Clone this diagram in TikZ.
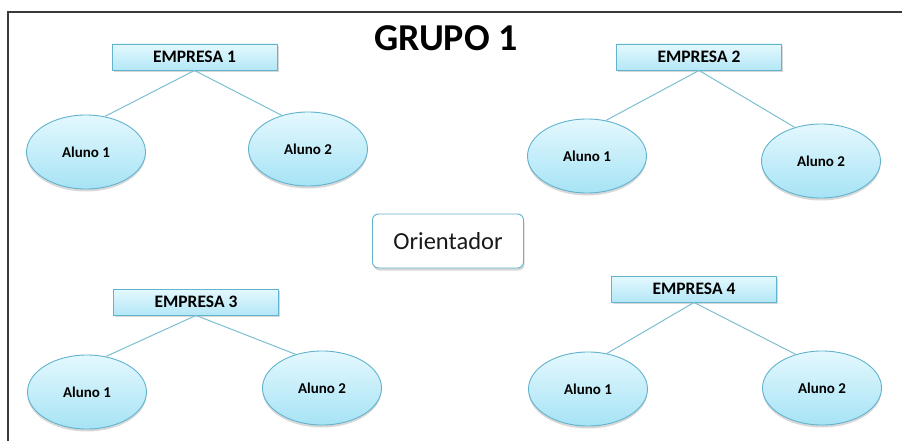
\documentclass[tikz,border=0pt]{standalone}
\usepackage{fontspec}
\setmainfont{Carlito}
\usetikzlibrary{shadows,shapes.geometric}
\definecolor{rimblue}{HTML}{62B3CD}
\definecolor{topcyan}{HTML}{E4F8FE}
\definecolor{botcyan}{HTML}{A6E3F5}
\definecolor{linkblue}{HTML}{7DBFD2}
\definecolor{framegray}{HTML}{3A3A3A}
\tikzset{
  company/.style={draw=rimblue, line width=0.9pt, top color=topcyan, bottom color=botcyan!85,
    minimum width=165pt, minimum height=26pt, inner sep=0pt,
    font=\bfseries\fontsize{17.5}{17.5}\selectfont,
    drop shadow={shadow xshift=1.5pt, shadow yshift=-2pt, opacity=0.25, fill=black!60}},
  student/.style={ellipse, draw=rimblue, line width=0.9pt, top color=topcyan, bottom color=botcyan,
    minimum width=119pt, minimum height=74pt, inner sep=0pt,
    font=\bfseries\fontsize{15}{15}\selectfont,
    drop shadow={shadow xshift=0pt, shadow yshift=-2.5pt, opacity=0.25, fill=black!60}},
  advisor/.style={draw=rimblue, line width=0.9pt, rounded corners=6pt, fill=white,
    minimum width=151pt, minimum height=54pt, inner sep=0pt,
    font=\fontsize{24.5}{24.5}\selectfont, text=black!90,
    drop shadow={shadow xshift=1pt, shadow yshift=-2.5pt, opacity=0.25, fill=black!60}},
  link/.style={draw=linkblue, line width=1pt},
}
\begin{document}
\begin{tikzpicture}[x=1pt, y=-1pt]
  \useasboundingbox (0,0) rectangle (902,441);
  \fill[white] (0,0) rectangle (902,441);
  % frame
  \draw[framegray, line width=1.6pt] (8,441) -- (8,12) -- (902,12);

  % title
  \node[font=\bfseries\fontsize{38}{38}\selectfont] (title) at (446,38) {GRUPO 1};

  % advisor
  \node[advisor] (ori) at (448,241) {Orientador};

  % group 1
  \node[company] (e1) at (194.5,57) {EMPRESA 1};
  \node[student] (e1a) at (86,152) {Aluno 1};
  \node[student] (e1b) at (308,149) {Aluno 2};
  % group 2
  \node[company] (e2) at (699,57) {EMPRESA 2};
  \node[student] (e2a) at (587,156) {Aluno 1};
  \node[student] (e2b) at (821,161) {Aluno 2};
  % group 3
  \node[company] (e3) at (196,302) {EMPRESA 3};
  \node[student] (e3a) at (87,392) {Aluno 1};
  \node[student] (e3b) at (322,388) {Aluno 2};
  % group 4
  \node[company] (e4) at (694,289) {EMPRESA 4};
  \node[student] (e4a) at (588,389) {Aluno 1};
  \node[student] (e4b) at (822,388) {Aluno 2};

  % company-to-student links
  \foreach \c in {e1,e2,e3,e4}{
    \draw[link] (\c.south) -- (\c a.62);
    \draw[link] (\c.south) -- (\c b.128);
  }
\end{tikzpicture}
\end{document}
